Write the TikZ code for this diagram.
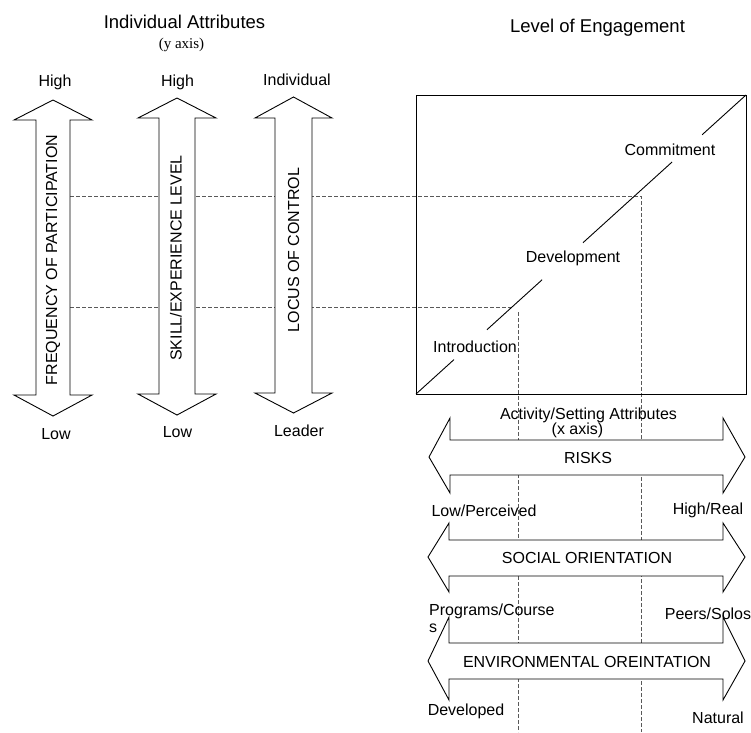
\documentclass[tikz,border=0pt]{standalone}
\usepackage{fontspec}
\usetikzlibrary{calc}
\setmainfont{Liberation Sans}
\newfontfamily\serifface{Liberation Serif}
\begin{document}
\begin{tikzpicture}[x=1pt,y=-1pt,
  lbl/.style={inner sep=0pt,font=\fontsize{16}{18}\selectfont},
  ttl/.style={inner sep=0pt,font=\fontsize{18.5}{21}\selectfont},
  guide/.style={draw=black!65,line width=0.8pt,dash pattern=on 4pt off 2pt},
  outline/.style={draw=black,line width=0.9pt,line join=miter},
  bigarrow/.style={outline,fill=white}]
\useasboundingbox (0,0) rectangle (751,732);

% engagement square corners
\coordinate (sqBL) at (416,394);
\coordinate (sqTR) at (746,95);

% dashed guides from the attribute arrows into the square and down the x axis
\coordinate (hiL) at (70,196);
\coordinate (hiR) at (641,196);
\coordinate (hiB) at (641,732);
\coordinate (loL) at (70,307);
\coordinate (loR) at (512,307);
\coordinate (loT) at (518,312);
\coordinate (loB) at (518,732);
\draw[guide] (hiL) -- (hiR) -- (hiB);
\draw[guide] (loL) -- (loR);
\draw[guide] (loT) -- (loB);

% engagement square and its broken diagonal
\draw[outline] (sqBL) rectangle (sqTR);
\draw[outline] ($(sqBL)!0!(sqTR)$) -- ($(sqBL)!0.115!(sqTR)$);
\draw[outline] ($(sqBL)!0.215!(sqTR)$) -- ($(sqBL)!0.382!(sqTR)$);
\draw[outline] ($(sqBL)!0.506!(sqTR)$) -- ($(sqBL)!0.776!(sqTR)$);
\draw[outline] ($(sqBL)!0.867!(sqTR)$) -- ($(sqBL)!1!(sqTR)$);

% vertical double arrows (y axis)
\draw[bigarrow] (53,100) -- (92,120) -- (70,120) -- (70,395) -- (92,395) -- (53,416)
  -- (14,395) -- (36,395) -- (36,120) -- (14,120) -- cycle;
\draw[bigarrow] (177,98) -- (216,118) -- (195,118) -- (195,394) -- (216,394) -- (177,415)
  -- (138,394) -- (159,394) -- (159,118) -- (138,118) -- cycle;
\draw[bigarrow] (293.5,97) -- (332,118) -- (312,118) -- (312,393) -- (332,393) -- (293.5,413)
  -- (255,393) -- (275,393) -- (275,118) -- (255,118) -- cycle;

% horizontal double arrows (x axis)
\draw[bigarrow] (429,457) -- (450,418) -- (450,440) -- (723,440) -- (723,418) -- (745,457)
  -- (723,493) -- (723,475) -- (450,475) -- (450,493) -- cycle;
\draw[bigarrow] (428,557) -- (449,523) -- (449,540) -- (723,540) -- (723,523) -- (745,557)
  -- (723,592) -- (723,576) -- (449,576) -- (449,592) -- cycle;
\draw[bigarrow] (428,661) -- (449,617) -- (449,643) -- (723,643) -- (723,617) -- (745,661)
  -- (723,700) -- (723,679) -- (449,679) -- (449,700) -- cycle;

% headings
\node[ttl] (tIndiv) at (184.5,21.5) {Individual Attributes};
\node[inner sep=0pt,font=\serifface\fontsize{15}{17}\selectfont] (tYaxis) at (181.5,45) {(y axis)};
\node[ttl] (tLevel) at (597.5,28) {Level of Engagement};

% y-axis arrow ends
\node[lbl] (hi1) at (55,82) {High};
\node[lbl] (hi2) at (177.5,82) {High};
\node[lbl] (hi3) at (297,80) {Individual};
\node[lbl] (lo1) at (56,434) {Low};
\node[lbl] (lo2) at (177.5,432) {Low};
\node[lbl] (lo3) at (299,431) {Leader};

% y-axis arrow names
\node[lbl,rotate=90] (aFreq) at (53,260) {FREQUENCY OF PARTICIPATION};
\node[lbl,rotate=90] (aSkill) at (176,258) {SKILL/EXPERIENCE LEVEL};
\node[lbl,rotate=90] (aLocus) at (293.5,250) {LOCUS OF CONTROL};

% engagement stages
\node[lbl] (sCommit) at (670,150) {Commitment};
\node[lbl] (sDevel) at (573,258) {Development};
\node[lbl] (sIntro) at (475,347) {Introduction};

% x-axis caption and arrows
\node[lbl] (xTitle) at (588.5,415) {Activity/Setting Attributes};
\node[lbl] (xAxis) at (577.5,430) {(x axis)};
\node[lbl] (xRisk) at (588,458) {RISKS};
\node[lbl] (xSocial) at (587,558) {SOCIAL ORIENTATION};
\node[lbl] (xEnv) at (587,661.5) {ENVIRONMENTAL OREINTATION};

% x-axis arrow ends
\node[lbl] (rLo) at (484,511) {Low/Perceived};
\node[lbl] (rHi) at (708,510) {High/Real};
\node[lbl,anchor=west] (soLo) at (429,611.5) {Programs/Course};
\node[lbl,anchor=west] (soLo2) at (429,628) {s};
\node[lbl] (soHi) at (708,614) {Peers/Solos};
\node[lbl] (enLo) at (466,711) {Developed};
\node[lbl] (enHi) at (718,718) {Natural};
\end{tikzpicture}
\end{document}
